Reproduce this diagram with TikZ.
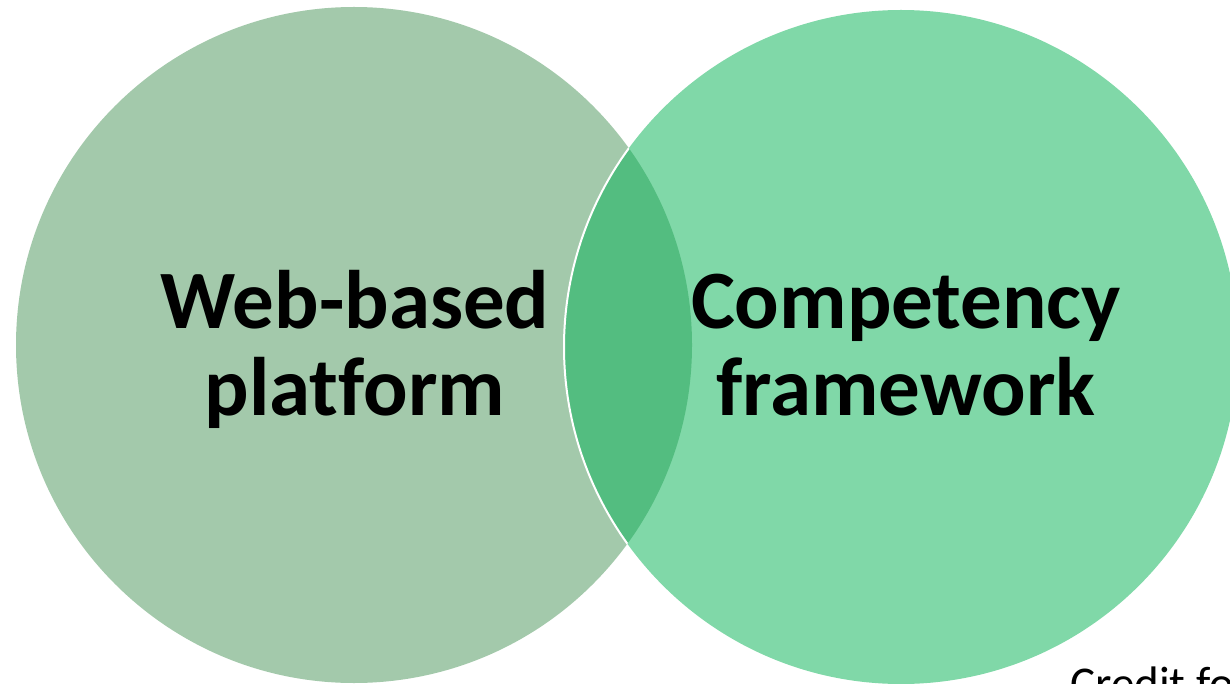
\documentclass[tikz,border=0pt]{standalone}
\usepackage{fontspec}
\setmainfont{Carlito}[Ligatures=CommonOff]
\definecolor{leftc}{HTML}{A3C9AB}
\definecolor{rightc}{HTML}{80D8A8}
\definecolor{lensc}{HTML}{53BD80}
\tikzset{
  bigtext/.style={font=\fontsize{83}{87}\selectfont\bfseries, align=center, inner sep=0pt, text=black},
  credit/.style={font=\fontsize{47}{56}\selectfont, inner sep=0pt, text=black}
}
\begin{document}
\begin{tikzpicture}[x=1pt,y=-1pt]
\useasboundingbox (0,0) rectangle (1230,684);
\clip (0,0) rectangle (1230,684);
\coordinate (L) at (354,345);
\coordinate (R) at (901,347);
\fill[leftc] (L) circle (338);
\fill[rightc] (R) circle (337);
\begin{scope}
  \clip (L) circle (338);
  \fill[lensc] (R) circle (337);
\end{scope}
\begin{scope}
  \clip (L) circle (338);
  \draw[white, line width=2pt] (R) circle (337);
\end{scope}
\node[bigtext, anchor=base] (web) at (355,415) {Web-based\\platform};
\node[bigtext, anchor=base] (comp) at (906,415) {Competency\\framework};
\node[credit, anchor=base west] (cred) at (1070,699) {Credit for};
\end{tikzpicture}
\end{document}
